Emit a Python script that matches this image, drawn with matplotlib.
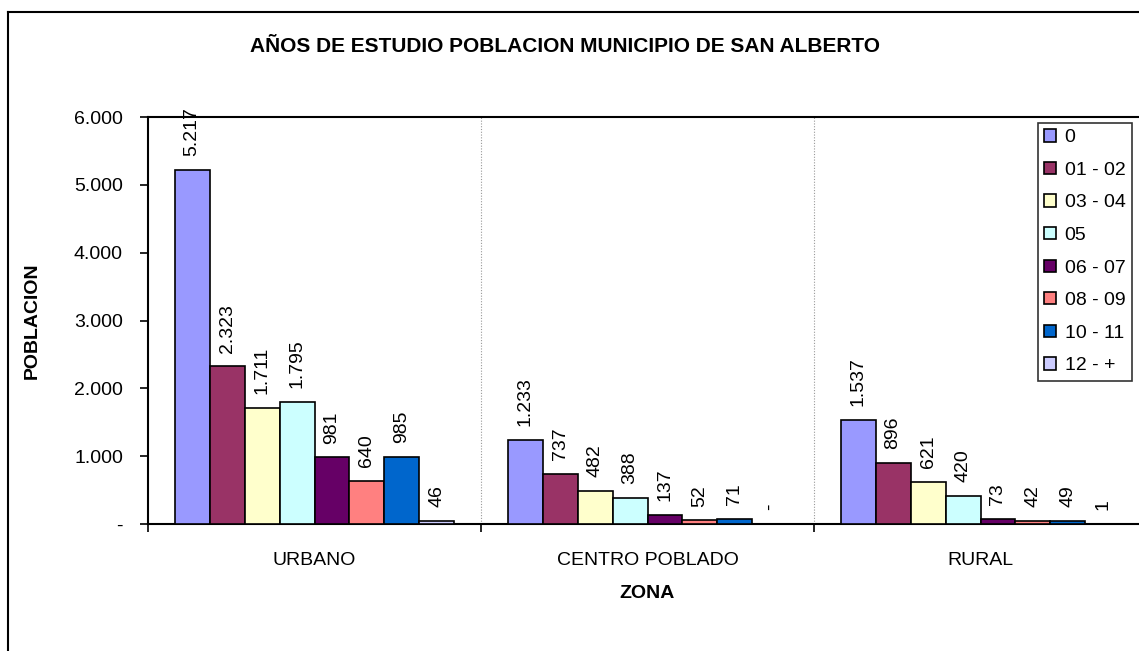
import matplotlib.pyplot as plt
import matplotlib.lines as mlines
from matplotlib.patches import Patch
import numpy as np

plt.rcParams['font.family'] = ['Liberation Sans', 'DejaVu Sans']

zonas = ["URBANO", "CENTRO POBLADO", "RURAL"]
grupos = ["0", "01 - 02", "03 - 04", "05", "06 - 07", "08 - 09", "10 - 11", "12 - +"]
colores = ["#9999FF", "#993366", "#FFFFCC", "#CCFFFF", "#660066", "#FF8080", "#0066CC", "#CCCCFF"]

urbano = [5217, 2323, 1711, 1795, 981, 640, 985, 46]
centro = [1233, 737, 482, 388, 137, 52, 71, 0]
rural = [1537, 896, 621, 420, 73, 42, 49, 1]

y_ticks = [0, 1000, 2000, 3000, 4000, 5000, 6000]


def fmt(v):
    if v == 0:
        return "-"
    return f"{v:,}".replace(",", ".")


fig = plt.figure(figsize=(11.39, 6.51), dpi=100)
ax = fig.add_axes([148 / 1139, 1 - 524 / 651, 999 / 1139, 407 / 651])

datos = np.array([urbano, centro, rural])
x = np.arange(len(zonas))
w = 0.105
n = len(grupos)
for i, g in enumerate(grupos):
    pos = x - w * n / 2 + w * (i + 0.5)
    vals = datos[:, i]
    ax.bar(pos, vals, width=w, color=colores[i], edgecolor="black", linewidth=1.2, label=g, zorder=3)
    for p, v in zip(pos, vals):
        ax.annotate(fmt(v), (p, v), xytext=(0, 10), textcoords="offset points",
                    rotation=90, ha="center", va="bottom", fontsize=14)

ax.set_xlim(-0.5, 2.5)
ax.set_ylim(0, 6000)
ax.set_yticks(y_ticks)
ax.set_yticklabels([fmt(v) for v in y_ticks], fontsize=14)
ax.set_xticks([-0.5, 0.5, 1.5, 2.5])
ax.set_xticklabels([])
ax.set_xticks(x, minor=True)
ax.set_xticklabels(zonas, minor=True, fontsize=14)
ax.tick_params(axis="x", which="major", direction="out", length=6, width=1.2)
ax.tick_params(axis="x", which="minor", length=0, pad=20)
ax.tick_params(axis="y", direction="out", length=6, width=1.2, pad=12)
for xv in [0.5, 1.5]:
    ax.axvline(xv, color="#999999", linestyle=(0, (1, 1.5)), linewidth=0.8, zorder=1)

ax.spines["right"].set_visible(False)
for s in ["top", "left", "bottom"]:
    ax.spines[s].set_linewidth(1.5)

ax.set_ylabel("POBLACION", fontsize=14, fontweight="bold", labelpad=24)
ax.set_xlabel("ZONA", fontsize=14, fontweight="bold", labelpad=12)

fig.text(565 / 1139, 1 - 47 / 651, "AÑOS DE ESTUDIO POBLACION MUNICIPIO DE SAN ALBERTO",
         ha="center", va="center", fontsize=15, fontweight="bold")

handles = [Patch(facecolor=c, edgecolor="black", linewidth=1.2) for c in colores]
leg = fig.legend(handles, grupos, loc="upper left", bbox_to_anchor=(1038 / 1139, 1 - 123 / 651),
                 fontsize=14, frameon=True, fancybox=False, edgecolor="black",
                 handlelength=0.6, handleheight=0.6, handletextpad=0.45,
                 labelspacing=0.8, borderpad=0.32, borderaxespad=0)
leg.get_frame().set_linewidth(1.2)

# marco exterior del grafico
fig.add_artist(mlines.Line2D([8 / 1139, 8 / 1139], [0, 1 - 12 / 651], color="black", linewidth=1.5,
                             transform=fig.transFigure))
fig.add_artist(mlines.Line2D([8 / 1139, 1], [1 - 12 / 651, 1 - 12 / 651], color="black", linewidth=1.5,
                             transform=fig.transFigure))

fig.savefig("out.png", dpi=100)
